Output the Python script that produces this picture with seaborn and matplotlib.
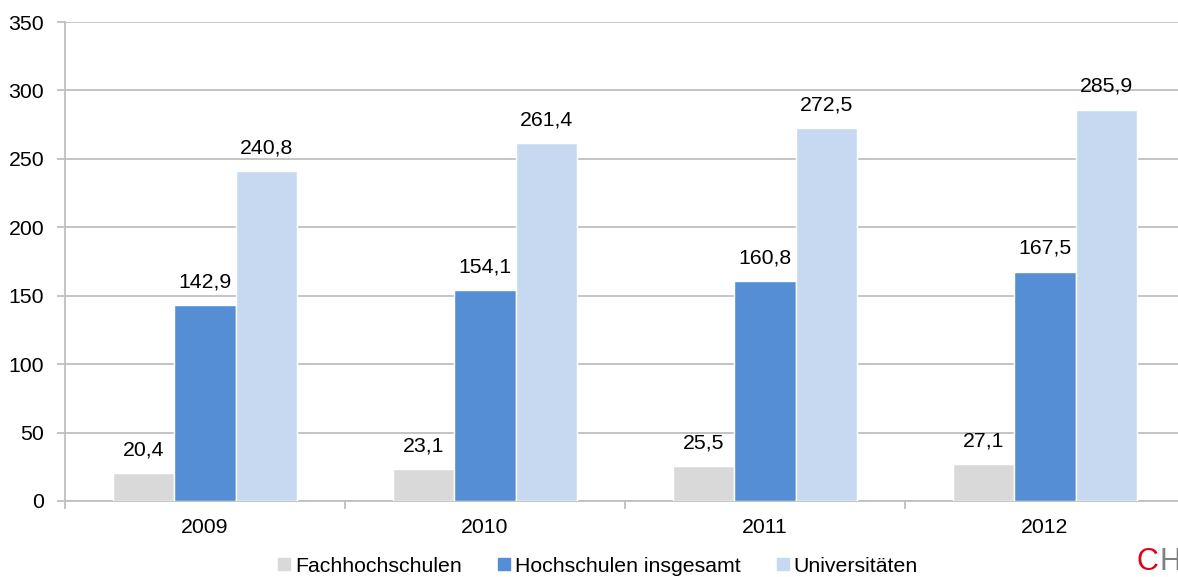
import matplotlib
matplotlib.use("Agg")
import matplotlib.pyplot as plt
import seaborn as sns
import pandas as pd
from matplotlib.lines import Line2D

years = ["2009", "2010", "2011", "2012"]
series = ["Fachhochschulen", "Hochschulen insgesamt", "Universitäten"]
fachhochschulen = [20.4, 23.1, 25.5, 27.1]
hochschulen = [142.9, 154.1, 160.8, 167.5]
universitaeten = [240.8, 261.4, 272.5, 285.9]
colors = ["#D9D9D9", "#558ED5", "#C6D9F1"]
yticks = [0, 50, 100, 150, 200, 250, 300, 350]

sns.set_theme(style="white")
plt.rcParams['font.family'] = ['Liberation Sans', 'DejaVu Sans']
plt.rcParams['text.color'] = 'black'

df = pd.DataFrame({
    "Jahr": years * 3,
    "Serie": [s for s in series for _ in years],
    "Wert": fachhochschulen + hochschulen + universitaeten,
})

FS = 15.3
W, H = 1178, 577
fig = plt.figure(figsize=(W / 100, H / 100), dpi=100)
ax = fig.add_axes([65 / W, 1 - 501 / H, 1120 / W, 479 / H])

sns.barplot(data=df, x="Jahr", y="Wert", hue="Serie", hue_order=series,
            palette=colors, saturation=1, width=0.66, errorbar=None,
            edgecolor="white", linewidth=1, ax=ax, legend=False, zorder=3)

for cont in ax.containers:
    labels = [f"{v:.1f}".replace(".", ",") for v in cont.datavalues]
    ax.bar_label(cont, labels=labels, padding=10, fontsize=FS, color="black", zorder=4)

gray = "#BFBFBF"
ax.set_ylim(0, 350)
ax.set_xlim(-0.5, 3.5)
ax.set_yticks(yticks)
ax.set_yticklabels([str(t) for t in yticks])
ax.yaxis.grid(True, color=gray, linewidth=1.3, zorder=0)
ax.set_axisbelow(True)
ax.set_xlabel("")
ax.set_ylabel("")
for s in ["top", "right"]:
    ax.spines[s].set_visible(False)
for s in ["left", "bottom"]:
    ax.spines[s].set_color(gray)
    ax.spines[s].set_linewidth(1.3)

ax.tick_params(axis="y", length=6, width=1.3, color=gray, labelcolor="black",
               labelsize=FS, pad=9, left=True)
ax.tick_params(axis="x", which="major", length=0, labelcolor="black", labelsize=FS, pad=12)
ax.set_xticks([-0.5, 0.5, 1.5, 2.5, 3.5], minor=True)
ax.tick_params(axis="x", which="minor", length=6, width=1.3, color=gray, bottom=True)

handles = [Line2D([], [], marker="s", linestyle="", markersize=8,
                  markerfacecolor=c, markeredgecolor=c) for c in colors]
fig.legend(handles, series, loc="center", bbox_to_anchor=(597 / W, 1 - 566 / H),
           ncol=3, frameon=False, fontsize=FS, handletextpad=0.1,
           columnspacing=1.6, handlelength=0.8, borderaxespad=0,
           labelcolor="black")

c_txt = fig.text(1137 / W, 1 - 570 / H, "C", color="#E2001A", fontsize=22,
                 ha="left", va="baseline")
fig.canvas.draw()
bb = c_txt.get_window_extent(renderer=fig.canvas.get_renderer())
fig.text(bb.x1 / W + 0.5 / W, 1 - 570 / H, "HE", color="#808080", fontsize=22,
         ha="left", va="baseline")

fig.savefig("out.png", dpi=100)
